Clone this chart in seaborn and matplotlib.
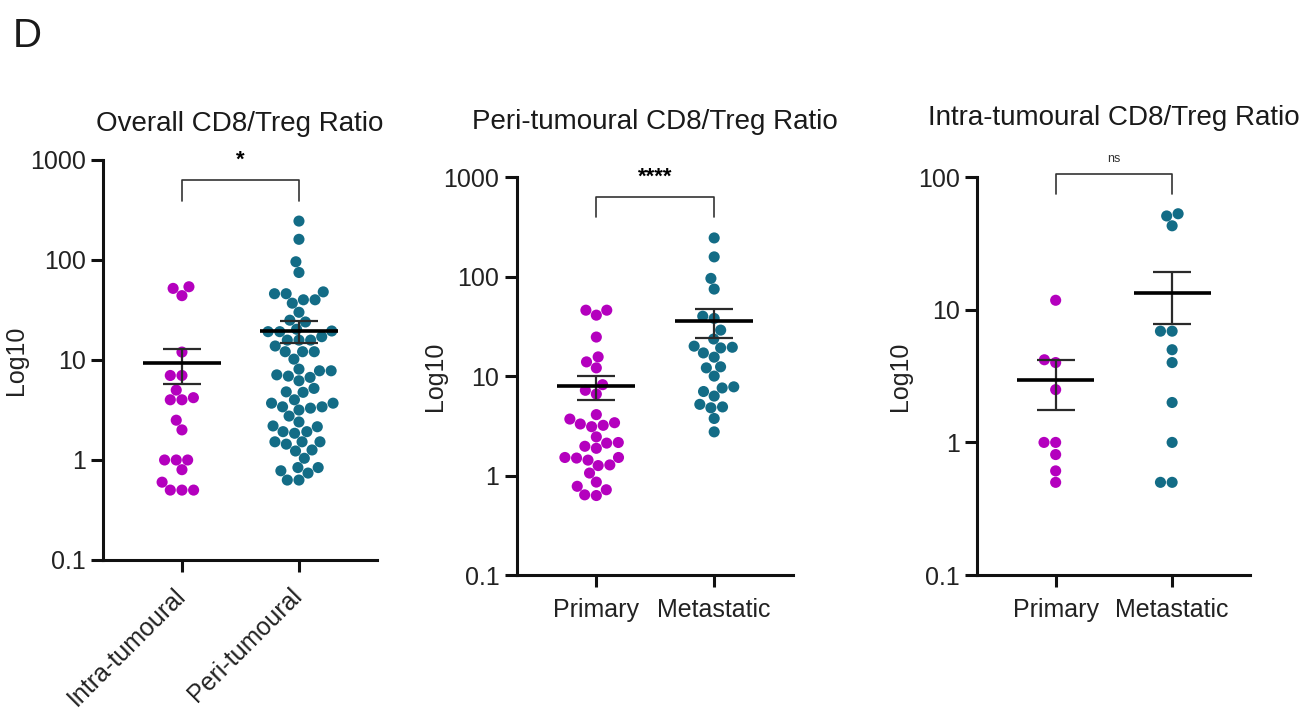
import matplotlib
matplotlib.use("Agg")
import matplotlib.pyplot as plt
import matplotlib.ticker as mticker
import matplotlib.transforms as mtransforms
import pandas as pd
import seaborn as sns

MAGENTA = "#B400BE"
TEAL = "#136C86"

# values (ratio, log axis)
overall_intra = [52, 54, 44, 12, 7, 7, 5, 4.2, 4, 4, 2.5, 2.0,
                 1, 1, 1, 0.8, 0.6, 0.5, 0.5, 0.5]
overall_peri = [245, 161, 96, 75, 46, 48, 46, 37, 40, 40, 30, 25, 24,
                19.2, 19.2, 20.3, 19.5, 15.8, 15.8, 15.8, 17.1, 13.8,
                12.1, 12.1, 12.1, 10.2, 7.1, 7.8, 8.1, 7.8, 6.7, 6.2, 6.9,
                4.8, 4.75, 5.2, 3.7, 3.7, 4.0, 3.3, 3.4, 3.4, 3.16,
                2.75, 2.4, 2.19, 2.15, 1.92, 1.85, 1.92, 1.52, 1.52, 1.44,
                1.52, 1.26, 1.23, 1.04, 0.84, 0.74, 0.78, 0.84, 0.63, 0.63]
peri_primary = [46, 41, 46, 24.7, 15.6, 13.9, 12.1, 8.2, 7.2, 6.6, 4.1, 3.7,
                3.4, 3.3, 3.2, 3.1, 2.45, 2.15, 2.12, 1.88, 1.97,
                1.52, 1.5, 1.43, 1.52, 1.26, 1.28, 1.06,
                0.86, 0.78, 0.72, 0.63, 0.64]
peri_metastatic = [245, 158, 96, 75, 38, 40, 29, 19.5, 20, 19.2, 23.6,
                   15.5, 17.1, 12.1, 12.4, 10, 7.6, 7.8, 7.0,
                   6.3, 5.2, 4.9, 4.8, 3.75, 2.75]
intra_primary = [11.8, 4.0, 4.2, 2.5, 1.0, 1.0, 0.81, 0.61, 0.5]
intra_metastatic = [53, 51, 43, 6.9, 6.9, 5.0, 4.0, 2.0, 1.0, 0.5, 0.5]

# mean +/- SEM as drawn
overall_mean = [9.3, 19.5]
overall_sem = [3.6, 4.8]
peri_mean = [7.9, 35.5]
peri_sem = [2.2, 11.5]
intra_mean = [2.95, 13.5]
intra_sem = [1.2, 5.7]

panels = [
    dict(title="Overall CD8/Treg Ratio", groups=["Intra-tumoural", "Peri-tumoural"],
         values=[overall_intra, overall_peri], mean=overall_mean, sem=overall_sem,
         ylim=(0.1, 1000), sig="*", sig_size=16, bracket=(631, 389), sig_y=1000,
         rect=[0.0789, 0.2146, 0.210, 0.561], ylab_x=-0.274, title_y=1.09, rotate=True),
    dict(title="Peri-tumoural CD8/Treg Ratio", groups=["Primary", "Metastatic"],
         values=[peri_primary, peri_metastatic], mean=peri_mean, sem=peri_sem,
         ylim=(0.1, 1000), sig="****", sig_size=16, bracket=(631, 398), sig_y=1000,
         rect=[0.396, 0.1935, 0.2115, 0.558], ylab_x=-0.254, title_y=1.138, rotate=False),
    dict(title="Intra-tumoural CD8/Treg Ratio", groups=["Primary", "Metastatic"],
         values=[intra_primary, intra_metastatic], mean=intra_mean, sem=intra_sem,
         ylim=(0.1, 100), sig="ns", sig_size=9, bracket=(106, 75), sig_y=138,
         rect=[0.7487, 0.1935, 0.209, 0.558], ylab_x=-0.238, title_y=1.148, rotate=False),
]

sns.set_style("ticks")
plt.rcParams["font.family"] = ["Liberation Sans", "DejaVu Sans"]
plt.rcParams["text.color"] = "#1a1a1a"

fig = plt.figure(figsize=(13.05, 7.13), dpi=100)
fig.text(0.010, 0.95, "D", fontsize=29, va="center", ha="left")

for p in panels:
    ax = fig.add_axes(p["rect"])
    df = pd.DataFrame({
        "group": [g for g, v in zip(p["groups"], p["values"]) for _ in v],
        "ratio": [x for v in p["values"] for x in v],
    })
    sns.swarmplot(data=df, x="group", y="ratio", hue="group", order=p["groups"],
                  palette=[MAGENTA, TEAL], size=8, linewidth=0, log_scale=True,
                  legend=False, ax=ax, zorder=2)

    for i, (m, s) in enumerate(zip(p["mean"], p["sem"])):
        ax.errorbar(i, m, yerr=s, fmt="none", ecolor="#2a2a2a", elinewidth=1.6,
                    capsize=14, capthick=1.6, zorder=3)
        ax.hlines(m, i - 0.33, i + 0.33, color="black", lw=2.6, zorder=4)

    top, leg = p["bracket"]
    ax.plot([0, 0, 1, 1], [leg, top, top, leg], color="#333333", lw=1.2,
            clip_on=False, zorder=5)
    ax.text(0.5, p["sig_y"], p["sig"], ha="center", va="center",
            fontsize=p["sig_size"], fontweight="bold" if p["sig"] != "ns" else "normal",
            color="#333333" if p["sig"] == "ns" else "black")

    ax.set_yscale("log")
    ax.set_ylim(*p["ylim"])
    ax.set_xlim(-0.675, 1.667)
    ax.yaxis.set_major_locator(mticker.LogLocator(base=10, numticks=10))
    ax.yaxis.set_minor_locator(mticker.NullLocator())
    ax.yaxis.set_major_formatter(mticker.FuncFormatter(lambda v, _: f"{v:g}"))

    for side in ["top", "right"]:
        ax.spines[side].set_visible(False)
    for side in ["left", "bottom"]:
        ax.spines[side].set_linewidth(2.2)
        ax.spines[side].set_color("#111111")
    ax.tick_params(axis="both", width=2.2, length=8.5, color="#111111",
                   labelsize=18, labelcolor="#222222")
    ax.tick_params(axis="y", pad=4)
    ax.tick_params(axis="x", pad=6 if p["rotate"] else 8)

    ax.set_xlabel("")
    ax.set_ylabel("Log10", fontsize=18, color="#222222")
    ax.yaxis.set_label_coords(p["ylab_x"], 0.5)
    if p["rotate"]:
        ax.set_xticks([0, 1], p["groups"], rotation=45, ha="right",
                      rotation_mode="anchor")
        shift = mtransforms.ScaledTranslation(-9 / 100, -3 / 100, fig.dpi_scale_trans)
        for lbl in ax.get_xticklabels():
            lbl.set_transform(lbl.get_transform() + shift)
    ax.text(0.5, p["title_y"], p["title"], transform=ax.transAxes, ha="center",
            va="center", fontsize=20)

fig.savefig("out.png", dpi=100)
